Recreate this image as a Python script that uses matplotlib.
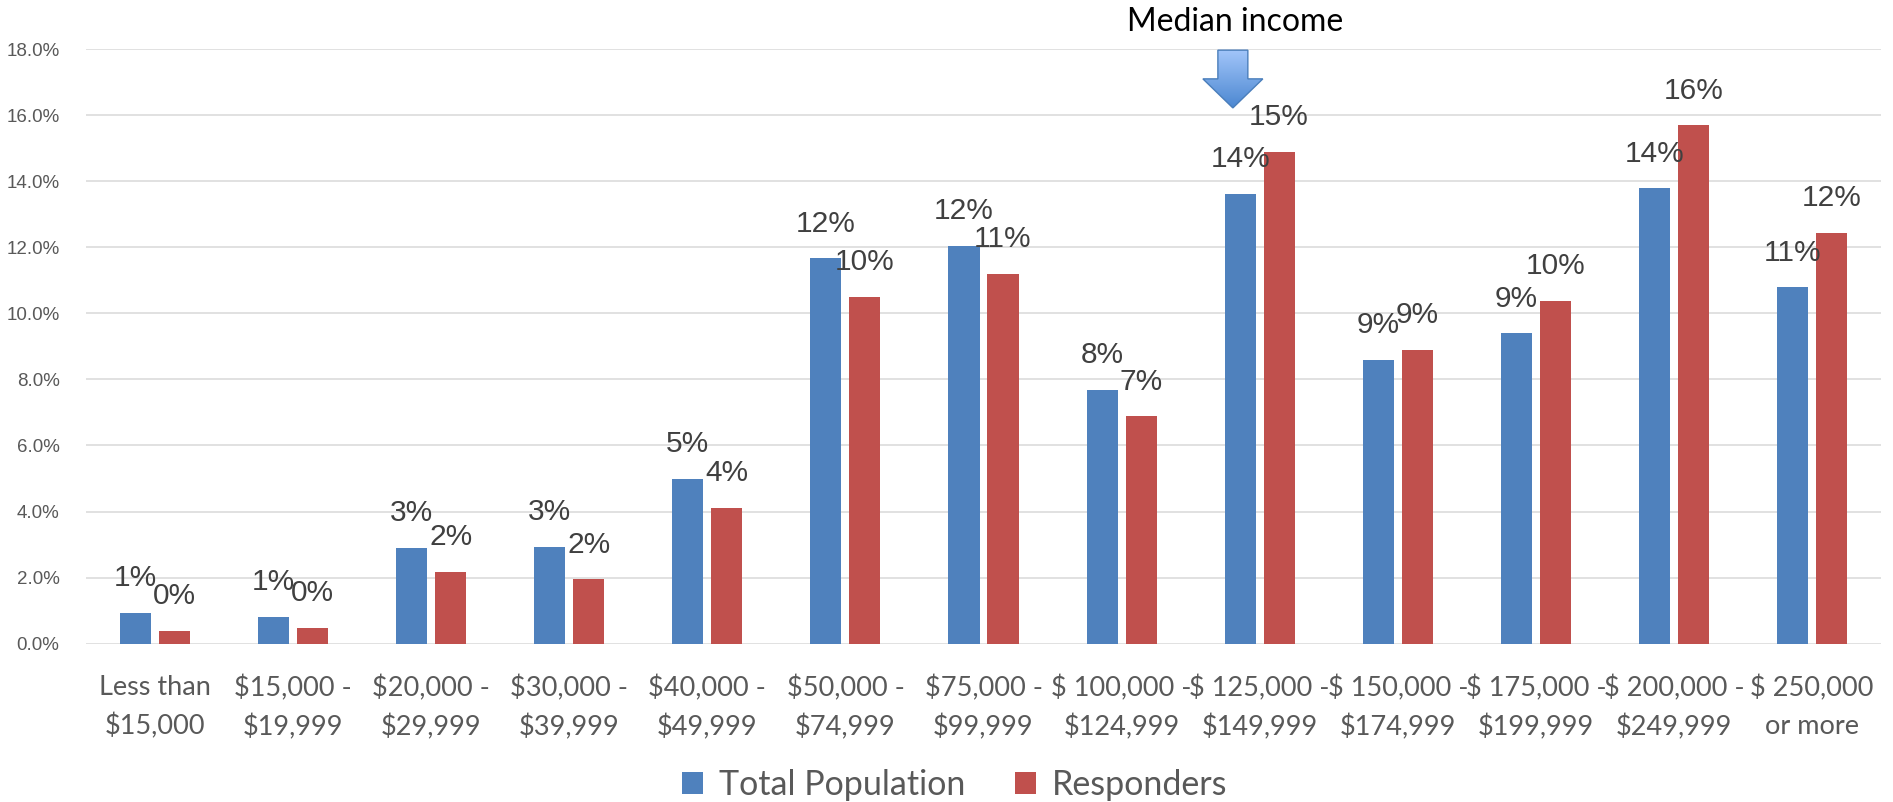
import numpy as np
import matplotlib
matplotlib.use("Agg")
import matplotlib.pyplot as plt
from matplotlib.patches import FancyArrow

# --- Data ---
categories = ["Less than\n$15,000", "$15,000 -\n$19,999", "$20,000 -\n$29,999",
              "$30,000 -\n$39,999", "$40,000 -\n$49,999", "$50,000 -\n$74,999",
              "$75,000 -\n$99,999", "$ 100,000 -\n$124,999", "$ 125,000 -\n$149,999",
              "$ 150,000 -\n$174,999", "$ 175,000 -\n$199,999", "$ 200,000 -\n$249,999",
              "$ 250,000\nor more"]
total_population = [0.92, 0.80, 2.89, 2.93, 4.98, 11.67, 12.04, 7.68, 13.62, 8.60, 9.40, 13.79, 10.79]
responders = [0.38, 0.48, 2.16, 1.94, 4.10, 10.50, 11.20, 6.88, 14.90, 8.89, 10.39, 15.70, 12.44]
series_names = ["Total Population", "Responders"]
yticks = [0, 2, 4, 6, 8, 10, 12, 14, 16, 18]
median_label = "Median income"
median_index = 8

blue = "#4F81BD"
red = "#C0504D"
grey_text = "#595959"

fig = plt.figure(figsize=(18.93, 8.02), dpi=100)
ax = fig.add_axes([86 / 1893, 1 - 643.5 / 802, (1881 - 86) / 1893, (643.5 - 49.5) / 802])

x = np.arange(len(categories))
w = 0.225
off = 0.141
b1 = ax.bar(x - off, total_population, w, color=blue, label=series_names[0], zorder=3)
b2 = ax.bar(x + off, responders, w, color=red, label=series_names[1], zorder=3)

# data labels, Excel style
for bars, vals in [(b1, total_population), (b2, responders)]:
    for rect, v in zip(bars, vals):
        ax.annotate(f"{v:.0f}%", (rect.get_x() + rect.get_width() / 2, v),
                    xytext=(0, 25), textcoords="offset points", ha="center", va="center",
                    fontsize=21.5, color="#404040", family="Liberation Sans", zorder=5)

ax.set_xlim(-0.5, len(categories) - 0.5)
ax.set_ylim(0, 18)
ax.set_yticks(yticks)
ax.set_yticklabels([f"{t:.1f}%" for t in yticks], fontsize=13.5, color=grey_text,
                   family="Liberation Sans")
ax.set_xticks(x)
ax.set_xticklabels([c.replace("$", r"\$") for c in categories], fontsize=19.5,
                   color=grey_text, family="Lato", linespacing=1.6)
ax.tick_params(axis="both", length=0)
ax.tick_params(axis="y", pad=19)
ax.tick_params(axis="x", pad=23)
ax.grid(axis="y", color="#D9D9D9", linewidth=1.1, zorder=0)
for s in ax.spines.values():
    s.set_visible(False)

# median income arrow with a gradient fill
ax_x = median_index - 0.194
arrow = FancyArrow(ax_x, 17.98, 0, -1.75, width=0.217, head_width=0.434,
                   head_length=0.88, length_includes_head=True,
                   facecolor="none", edgecolor="#4A7EBB", linewidth=1.0, zorder=6)
ax.add_patch(arrow)
grad = np.linspace(0, 1, 100).reshape(-1, 1)
cmap = matplotlib.colors.LinearSegmentedColormap.from_list("g", ["#A3C6FA", "#4A86D0"])
im = ax.imshow(grad, extent=[ax_x - 0.25, ax_x + 0.25, 16.2, 18.0], cmap=cmap,
               aspect="auto", origin="upper", zorder=5)
im.set_clip_path(arrow)
ax.set_xlim(-0.5, len(categories) - 0.5)
ax.set_ylim(0, 18)

ax.text(ax_x + 0.015, 18.83, median_label, ha="center", va="center", fontsize=23,
        family="Lato", color="black", clip_on=False)

leg = fig.legend(handles=[b1, b2], loc="center", bbox_to_anchor=(955 / 1893, 1 - 785 / 802),
                 ncol=2, frameon=False, handlelength=0.6, handleheight=0.6,
                 handletextpad=0.48, columnspacing=1.47, prop={"family": "Lato", "size": 24.5})
for t in leg.get_texts():
    t.set_color(grey_text)

fig.savefig("out.png", dpi=100)
